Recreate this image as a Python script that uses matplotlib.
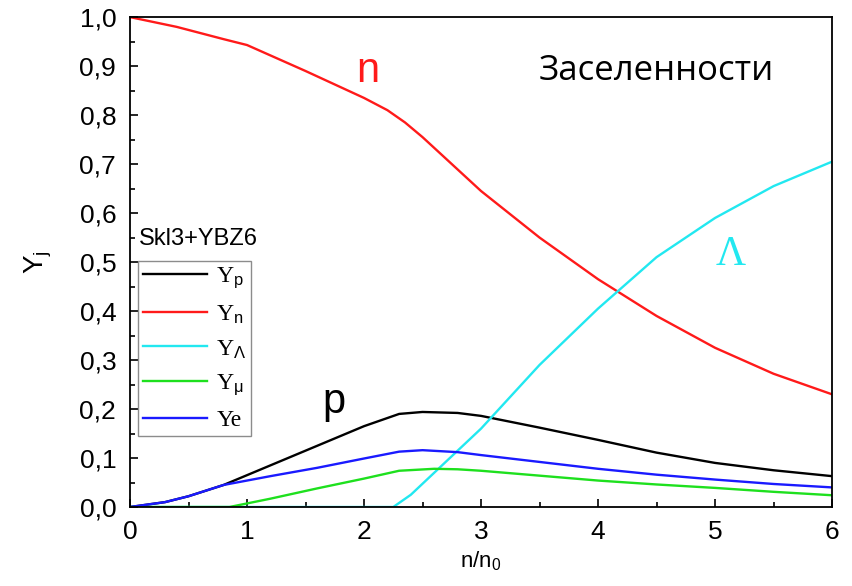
import matplotlib.pyplot as plt
from matplotlib.ticker import MultipleLocator, FuncFormatter

plt.rcParams['font.family'] = ['Liberation Sans', 'DejaVu Sans']
plt.rcParams['mathtext.fontset'] = 'custom'
plt.rcParams['mathtext.rm'] = 'Liberation Sans'
plt.rcParams['mathtext.it'] = 'Liberation Sans'

# population fractions vs density n/n0
x_n = [0.0, 0.4, 0.8, 1.0, 1.5, 2.0, 2.2, 2.35, 2.5, 3.0, 3.5, 4.0, 4.5, 5.0, 5.5, 6.0]
y_n = [1.0, 0.98, 0.955, 0.943, 0.89, 0.835, 0.81, 0.785, 0.755, 0.645, 0.55, 0.465, 0.39, 0.325, 0.272, 0.23]

x_l = [0.0, 2.25, 2.4, 2.6, 2.8, 3.0, 3.25, 3.5, 4.0, 4.5, 5.0, 5.5, 6.0]
y_l = [0.0, 0.0, 0.025, 0.07, 0.115, 0.16, 0.225, 0.29, 0.405, 0.51, 0.59, 0.655, 0.705]

x_p = [0.0, 0.3, 0.5, 0.8, 1.2, 1.6, 2.0, 2.3, 2.5, 2.8, 3.0, 3.5, 4.0, 4.5, 5.0, 5.5, 6.0]
y_p = [0.0, 0.01, 0.022, 0.045, 0.085, 0.125, 0.165, 0.19, 0.194, 0.192, 0.186, 0.162, 0.137, 0.111, 0.09, 0.075, 0.063]

x_e = [0.0, 0.3, 0.5, 0.8, 1.2, 1.6, 2.0, 2.3, 2.5, 2.8, 3.0, 3.5, 4.0, 4.5, 5.0, 5.5, 6.0]
y_e = [0.0, 0.01, 0.022, 0.045, 0.063, 0.08, 0.099, 0.113, 0.116, 0.112, 0.106, 0.092, 0.078, 0.066, 0.056, 0.047, 0.04]

x_mu = [0.0, 0.85, 1.2, 1.6, 2.0, 2.3, 2.6, 2.8, 3.0, 3.5, 4.0, 4.5, 5.0, 5.5, 6.0]
y_mu = [0.0, 0.0, 0.017, 0.038, 0.058, 0.074, 0.078, 0.077, 0.074, 0.064, 0.054, 0.046, 0.039, 0.031, 0.024]

fig = plt.figure(figsize=(8.52, 5.86), dpi=100)
ax = fig.add_axes([0.1526, 0.1348, 0.824, 0.836])

lw = 1.7
l_p, = ax.plot(x_p, y_p, color='black', lw=lw)
l_n, = ax.plot(x_n, y_n, color='#ff1a1a', lw=lw)
l_l, = ax.plot(x_l, y_l, color='#22e8f0', lw=lw)
l_mu, = ax.plot(x_mu, y_mu, color='#1ee01e', lw=lw)
l_e, = ax.plot(x_e, y_e, color='#1a1aff', lw=lw)

ax.set_xlim(0, 6)
ax.set_ylim(0, 1.0)
ax.xaxis.set_major_locator(MultipleLocator(1))
ax.xaxis.set_minor_locator(MultipleLocator(0.5))
ax.yaxis.set_major_locator(MultipleLocator(0.1))
ax.yaxis.set_minor_locator(MultipleLocator(0.05))
ax.yaxis.set_major_formatter(FuncFormatter(lambda v, p: f'{v:.1f}'.replace('.', ',')))
ax.tick_params(which='both', direction='in', labelsize=19, width=1.2)
ax.tick_params(which='major', length=6)
ax.tick_params(which='minor', length=3.5)
ax.tick_params(axis='x', pad=9)
ax.tick_params(axis='y', pad=10)
for s in ax.spines.values():
    s.set_linewidth(1.3)

ax.set_xlabel('n/n$_0$', fontsize=16, labelpad=4)
ax.set_ylabel('Y$_\\mathrm{j}$', fontsize=20, labelpad=18)

leg = ax.legend([l_p, l_n, l_l, l_mu, l_e],
                ['Y$_\\mathrm{p}$', 'Y$_\\mathrm{n}$', 'Y$_{\\Lambda}$', 'Y$_{\\mu}$', 'Ye'],
                loc='upper left', bbox_to_anchor=(0.012, 0.502), fontsize=17,
                frameon=True, fancybox=False, handlelength=2.7, labelspacing=0.5,
                borderpad=0.2, handletextpad=0.4, borderaxespad=0.0)
leg.get_frame().set_edgecolor('#707070')
leg.get_frame().set_linewidth(1.0)
for t in leg.get_texts():
    t.set_family(['Liberation Serif', 'DejaVu Serif'])

ax.text(0.013, 0.548, 'Skl3+YBZ6', transform=ax.transAxes, fontsize=17, va='center')
ax.text(2.03, 0.89, 'n', color='#ff1a1a', fontsize=30, ha='center', va='center')
ax.text(4.5, 0.89, 'Заселенности', color='black', fontsize=25, ha='center', va='center',
        family=['Open Sans', 'DejaVu Sans'])
ax.text(5.13, 0.515, 'Λ', color='#22e8f0', fontsize=30, ha='center', va='center',
        family=['Liberation Serif', 'DejaVu Serif'])
ax.text(1.74, 0.215, 'p', color='black', fontsize=30, ha='center', va='center')

fig.savefig('out.png', dpi=100)
